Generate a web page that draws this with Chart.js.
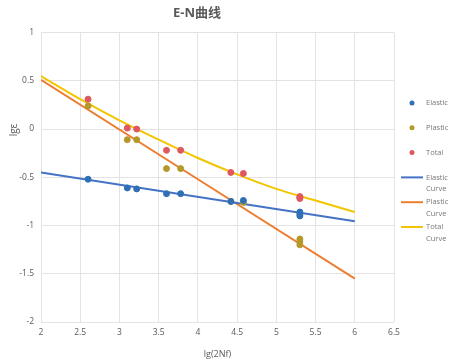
<!DOCTYPE html>
<html>
<head>
<meta charset="utf-8">
<script src="https://cdn.jsdelivr.net/npm/chart.js@4"></script>
<style>
    html, body { margin: 0; padding: 0; background: #fff; }
    #wrap { width: 474px; height: 364px; }
</style>
</head>
<body>
<div id="wrap"><canvas id="EnCurve"></canvas></div>
<script>
// Measured points (lg(2Nf), lg strain)
var pointX = [2.6, 3.1, 3.22, 3.6, 3.78, 4.42, 4.58, 5.3, 5.3, 5.3];
var elasticY = [-0.52, -0.61, -0.62, -0.67, -0.67, -0.75, -0.74, -0.86, -0.88, -0.90];
var plasticY = [0.24, -0.11, -0.11, -0.41, -0.41, -0.75, -0.76, -1.14, -1.17, -1.20];
var totalY = [0.31, 0.01, 0.00, -0.22, -0.22, -0.45, -0.46, -0.70, -0.71, -0.72];

// Fitted curves
var lineX = [2, 6];
var elasticCurveY = [-0.45, -0.955];
var plasticCurveY = [0.51, -1.55];
var totalCurveX = [2, 2.5, 3, 3.5, 4, 4.5, 5, 5.5, 6];
var totalCurveY = [0.55, 0.31, 0.09, -0.11, -0.30, -0.47, -0.62, -0.74, -0.86];

// Axis ticks
var xTicks = [2, 2.5, 3, 3.5, 4, 4.5, 5, 5.5, 6, 6.5];
var yTicks = [-2, -1.5, -1, -0.5, 0, 0.5, 1];

var seriesLabels = ['Elastic', 'Plastic', 'Total', 'Elastic Curve', 'Plastic Curve', 'Total Curve'];

var fontFamily = "'Open Sans', 'Noto Sans CJK SC', sans-serif";
var textColor = '#595959';
var gridColor = '#e3e3e3';

function toXY(xs, ys) {
    return ys.map(function (y, i) { return { x: xs[i], y: y }; });
}

function pointSet(label, ys, color) {
    return {
        type: 'scatter',
        label: label,
        data: toXY(pointX, ys),
        backgroundColor: color,
        borderColor: color,
        pointRadius: 3,
        pointHoverRadius: 3,
        order: 0
    };
}

function lineSet(label, xs, ys, color) {
    return {
        type: 'line',
        label: label,
        data: toXY(xs, ys),
        borderColor: color,
        backgroundColor: color,
        borderWidth: 2,
        pointRadius: 0,
        fill: false,
        cubicInterpolationMode: 'monotone',
        order: 1
    };
}

// Legend on the right side plus the y title, drawn by hand
var sideLegend = {
    id: 'sideLegend',
    afterDraw: function (chart) {
        var ctx = chart.ctx;
        ctx.save();
        ctx.font = '7.5px ' + fontFamily;
        ctx.textBaseline = 'middle';
        ctx.textAlign = 'left';
        var y = 103;
        chart.data.datasets.forEach(function (ds) {
            var words = ds.label.split(' ');
            if (ds.type === 'scatter') {
                ctx.fillStyle = ds.backgroundColor;
                ctx.beginPath();
                ctx.arc(412, y, 2.5, 0, Math.PI * 2);
                ctx.fill();
            } else {
                ctx.strokeStyle = ds.borderColor;
                ctx.lineWidth = 2;
                ctx.beginPath();
                ctx.moveTo(401, y);
                ctx.lineTo(423, y);
                ctx.stroke();
            }
            ctx.fillStyle = '#777777';
            words.forEach(function (w, i) {
                ctx.fillText(w, 426, y + i * 11.5);
            });
            y += 24.8;
        });

        ctx.translate(14, 130);
        ctx.rotate(-Math.PI / 2);
        ctx.textAlign = 'center';
        ctx.fillStyle = textColor;
        ctx.font = '10px ' + fontFamily;
        ctx.fillText('lgε', 0, 0);
        ctx.restore();
    }
};

var chart = new Chart(document.getElementById('EnCurve'), {
    type: 'scatter',
    data: {
        datasets: [
            pointSet(seriesLabels[0], elasticY, '#2e6fb5'),
            pointSet(seriesLabels[1], plasticY, '#b5982a'),
            pointSet(seriesLabels[2], totalY, '#e0585f'),
            lineSet(seriesLabels[3], lineX, elasticCurveY, '#4472c4'),
            lineSet(seriesLabels[4], lineX, plasticCurveY, '#ed7d31'),
            lineSet(seriesLabels[5], totalCurveX, totalCurveY, '#f2c500')
        ]
    },
    options: {
        responsive: true,
        maintainAspectRatio: false,
        animation: false,
        layout: {
            padding: { left: 0, right: 80, top: 0, bottom: 0 }
        },
        plugins: {
            legend: { display: false },
            tooltip: { enabled: false },
            title: {
                display: true,
                text: 'E-N曲线',
                color: textColor,
                font: { family: fontFamily, size: 13, weight: 'bold' },
                padding: { top: 5, bottom: 12 }
            }
        },
        scales: {
            x: {
                type: 'linear',
                min: 2,
                max: 6.5,
                afterBuildTicks: function (scale) {
                    scale.ticks = xTicks.map(function (v) { return { value: v }; });
                },
                afterFit: function (scale) {
                    scale.height = 42;
                },
                ticks: {
                    color: textColor,
                    font: { family: fontFamily, size: 8.5 },
                    padding: 5,
                    callback: function (v) { return String(v); }
                },
                grid: { color: gridColor, drawTicks: false },
                border: { display: false },
                title: {
                    display: true,
                    text: 'lg(2Nf)',
                    color: textColor,
                    font: { family: fontFamily, size: 9 },
                    padding: { top: 4 }
                }
            },
            y: {
                type: 'linear',
                min: -2,
                max: 1,
                afterBuildTicks: function (scale) {
                    scale.ticks = yTicks.map(function (v) { return { value: v }; });
                },
                afterFit: function (scale) {
                    scale.width = 41;
                },
                ticks: {
                    color: textColor,
                    font: { family: fontFamily, size: 8.5 },
                    padding: 7,
                    callback: function (v) { return String(v); }
                },
                grid: { color: gridColor, drawTicks: false },
                border: { display: false }
            }
        }
    },
    plugins: [sideLegend]
});
</script>
</body>
</html>
